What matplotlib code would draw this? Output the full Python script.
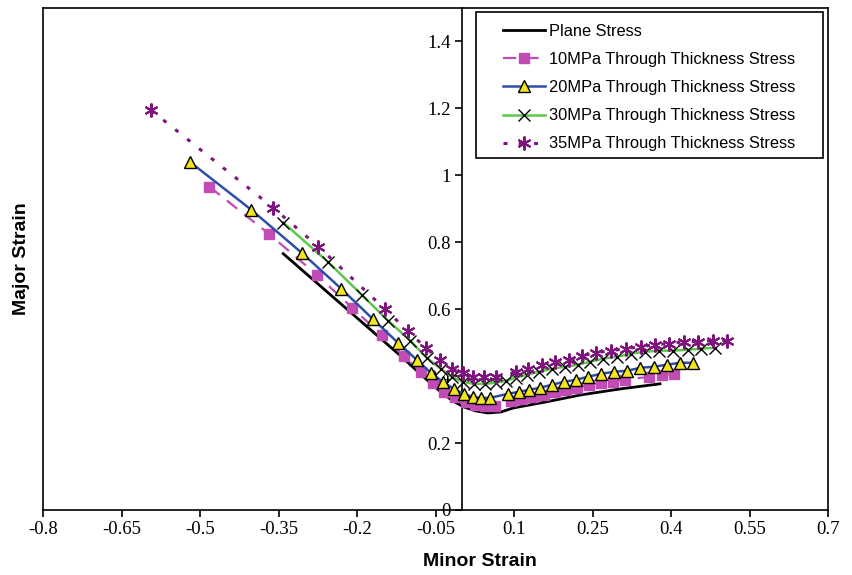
import numpy as np
import matplotlib
matplotlib.use('Agg')
import matplotlib.pyplot as plt
from matplotlib.patches import Rectangle

# values
plane_x = [-0.341, -0.117, -0.073, -0.040, -0.017, 0.004, 0.027, 0.050, 0.075, 0.099, 0.161, 0.228, 0.304, 0.379]
plane_y = [0.766, 0.461, 0.398, 0.353, 0.326, 0.308, 0.296, 0.290, 0.293, 0.305, 0.323, 0.344, 0.362, 0.377]

mpa10_x = [-0.482, -0.369, -0.277, -0.209, -0.153, -0.111, -0.078, -0.054, -0.034, -0.013, 0.008, 0.025, 0.044,
           0.063, 0.094, 0.115, 0.136, 0.157, 0.178, 0.199, 0.220, 0.243, 0.266, 0.289, 0.312, 0.358, 0.383, 0.406]
mpa10_y = [0.966, 0.826, 0.703, 0.604, 0.523, 0.461, 0.413, 0.380, 0.353, 0.338, 0.323, 0.314, 0.311,
           0.311, 0.326, 0.332, 0.338, 0.344, 0.353, 0.359, 0.365, 0.374, 0.380, 0.383, 0.389, 0.398, 0.404, 0.407]

mpa20_x = [-0.520, -0.402, -0.306, -0.230, -0.170, -0.122, -0.086, -0.059, -0.036, -0.015, 0.004, 0.021, 0.036,
           0.054, 0.088, 0.109, 0.128, 0.149, 0.172, 0.195, 0.218, 0.241, 0.266, 0.291, 0.316, 0.341, 0.367, 0.392,
           0.417, 0.442]
mpa20_y = [1.041, 0.897, 0.769, 0.661, 0.571, 0.500, 0.449, 0.410, 0.383, 0.362, 0.347, 0.338, 0.335,
           0.335, 0.347, 0.353, 0.359, 0.365, 0.374, 0.383, 0.389, 0.398, 0.407, 0.413, 0.416, 0.425, 0.428, 0.434,
           0.440, 0.440]

mpa30_x = [-0.341, -0.256, -0.191, -0.140, -0.098, -0.067, -0.040, -0.019, 0.002, 0.023, 0.044, 0.065, 0.084,
           0.103, 0.124, 0.147, 0.172, 0.197, 0.222, 0.245, 0.270, 0.297, 0.323, 0.350, 0.377, 0.404, 0.432, 0.457,
           0.484]
mpa30_y = [0.859, 0.742, 0.643, 0.565, 0.506, 0.455, 0.422, 0.398, 0.383, 0.377, 0.377, 0.380, 0.386,
           0.395, 0.404, 0.413, 0.422, 0.428, 0.434, 0.443, 0.452, 0.458, 0.467, 0.473, 0.476, 0.476, 0.479, 0.482,
           0.485]

mpa35_x = [-0.593, -0.360, -0.274, -0.147, -0.103, -0.069, -0.042, -0.019, 0.002, 0.021, 0.042, 0.065, 0.103,
           0.126, 0.153, 0.178, 0.205, 0.230, 0.256, 0.285, 0.314, 0.342, 0.369, 0.396, 0.425, 0.452, 0.480, 0.507]
mpa35_y = [1.194, 0.903, 0.787, 0.601, 0.535, 0.485, 0.449, 0.422, 0.410, 0.398, 0.398, 0.398, 0.413,
           0.422, 0.434, 0.443, 0.449, 0.461, 0.470, 0.476, 0.482, 0.488, 0.494, 0.497, 0.503, 0.503, 0.506, 0.506]

xticks = [-0.8, -0.65, -0.5, -0.35, -0.2, -0.05, 0.1, 0.25, 0.4, 0.55, 0.7]
xtick_labels = ['-0.8', '-0.65', '-0.5', '-0.35', '-0.2', '-0.05', '0.1', '0.25', '0.4', '0.55', '0.7']
yticks = [0, 0.2, 0.4, 0.6, 0.8, 1.0, 1.2, 1.4]
ytick_labels = ['0', '0.2', '0.4', '0.6', '0.8', '1', '1.2', '1.4']

W, H = 852, 575
fig = plt.figure(figsize=(W/100, H/100), dpi=100)
ax = fig.add_axes([43/W, 65/H, 785/W, 502/H])

ax.plot(plane_x, plane_y, color='black', lw=2, label='Plane Stress', zorder=3)
ax.plot(mpa10_x, mpa10_y, color='#C04CB4', lw=1.6, ls=(0, (6, 4)), marker='s', ms=7.5,
        mfc='#C04CB4', mec='#C04CB4', label='10MPa Through Thickness Stress', zorder=4)
ax.plot(mpa20_x, mpa20_y, color='#2F4EA8', lw=1.8, marker='^', ms=8,
        mfc='#F2E41E', mec='black', mew=1, label='20MPa Through Thickness Stress', zorder=5)
ax.plot(mpa30_x, mpa30_y, color='#5CC84A', lw=1.8, marker='x', ms=8,
        mec='black', mew=1, label='30MPa Through Thickness Stress', zorder=6)
ax.plot(mpa35_x, mpa35_y, color='#80147F', lw=2.2, ls=(0, (1.3, 3.7)), marker=(6, 2, 0), ms=10,
        mec='#80147F', mew=1.5, label='35MPa Through Thickness Stress', zorder=7)

ax.set_xlim(-0.8, 0.7)
ax.set_ylim(0, 1.5)

# y axis crosses at x = 0, frame kept all round
ax.spines['left'].set_position(('data', 0))
ax.plot([0, 0], [0, 1], transform=ax.transAxes, color='black', lw=1.2, clip_on=False)
for s in ['top', 'right', 'bottom', 'left']:
    ax.spines[s].set_linewidth(1.2)

ax.set_xticks(xticks)
ax.set_xticklabels(xtick_labels, family='Liberation Serif', fontsize=13.5)
ax.set_yticks(yticks)
ax.set_yticklabels(ytick_labels, family='Liberation Serif', fontsize=13.5)
ax.tick_params(axis='both', direction='out', length=5, width=1.2, pad=3)

ax.set_xlabel('Minor Strain', family='Liberation Sans', fontsize=14, fontweight='bold')
ax.xaxis.set_label_coords(0.557, -0.085)
ax.set_ylabel('Major Strain', family='Liberation Sans', fontsize=14, fontweight='bold')
ax.yaxis.set_label_coords(-0.016, 0.5)

# legend entries without frame, box drawn around them
leg = ax.legend(loc='upper left', bbox_to_anchor=(503/W, 1 - 24/H), bbox_transform=fig.transFigure,
                prop={'family': 'Liberation Sans', 'size': 11.8}, frameon=False,
                handlelength=2.56, handletextpad=0.25, labelspacing=0.8, borderaxespad=0,
                borderpad=0, numpoints=1)
leg.set_zorder(20)
box = Rectangle((476/W, 1 - 158/H), 347/W, 146/H, transform=fig.transFigure,
                facecolor='white', edgecolor='black', lw=1.2, zorder=19, clip_on=False)
ax.add_patch(box)

fig.savefig('out.png', dpi=100)
